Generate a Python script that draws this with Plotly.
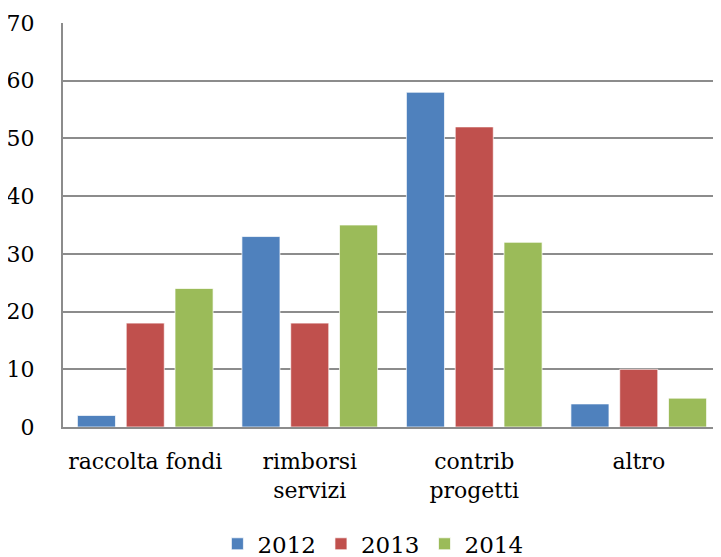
import plotly.graph_objects as go

categories = ["raccolta fondi", "rimborsi<br>servizi", "contrib<br>progetti", "altro"]
series_names = ["2012", "2013", "2014"]
values_2012 = [2, 33, 58, 4]
values_2013 = [18, 18, 52, 10]
values_2014 = [24, 35, 32, 5]
colors = ["#4F81BD", "#C0504D", "#9BBB59"]

fig = go.Figure()
for name, vals, col in zip(series_names, [values_2012, values_2013, values_2014], colors):
    fig.add_trace(go.Bar(
        x=categories, y=vals, name=name,
        marker=dict(color=col, line=dict(color="rgba(255,255,255,0.7)", width=1)),
    ))

FONT = "DejaVu Serif"
fig.update_layout(
    width=713, height=549,
    margin=dict(l=55, r=0, t=15, b=130, autoexpand=False),
    paper_bgcolor="white", plot_bgcolor="white",
    barmode="group", bargap=0.11, bargroupgap=0.22,
    font=dict(family=FONT, size=22, color="black"),
    showlegend=True,
    legend=dict(orientation="h", x=0.471, xanchor="center", y=-0.236, yanchor="top",
                font=dict(family=FONT, size=23), itemwidth=30, traceorder="normal"),
    xaxis=dict(showline=True, linecolor="#8c8c8c", linewidth=2, ticks="",
               ticklabelstandoff=14, automargin=False,
               tickfont=dict(family=FONT, size=22), showgrid=False),
    yaxis=dict(range=[0, 70], dtick=10, showline=True, linecolor="#8c8c8c", linewidth=2,
               gridcolor="#8c8c8c", gridwidth=2, ticks="", ticklabelstandoff=22,
               automargin=False,
               tickfont=dict(family=FONT, size=22), zeroline=False),
)
fig.write_html("out.html")
